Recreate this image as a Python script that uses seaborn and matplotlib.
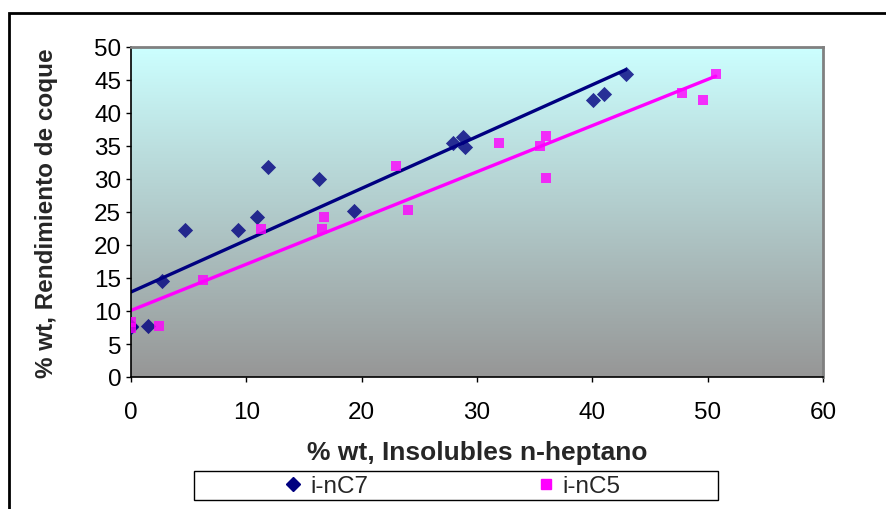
import numpy as np
import matplotlib
matplotlib.use("Agg")
import matplotlib.pyplot as plt
from matplotlib.lines import Line2D
from matplotlib.patches import Rectangle
import seaborn as sns

# i-nC7 series (navy diamonds), one point at x=0 sits under the pink squares
c7_x = [0.0, 0.0, 1.5, 2.7, 4.7, 9.3, 10.9, 11.9, 16.3, 19.3, 27.9, 28.8, 29.0, 40.1, 41.0, 42.9]
c7_y = [7.8, 7.6, 7.7, 14.6, 22.3, 22.3, 24.2, 31.8, 30.0, 25.2, 35.4, 36.3, 34.9, 41.9, 42.9, 45.9]

# i-nC5 series (magenta squares)
c5_x = [0.0, 0.0, 2.4, 6.2, 11.3, 16.6, 16.7, 23.0, 24.0, 31.9, 35.5, 36.0, 36.0, 47.8, 49.6, 50.7]
c5_y = [7.5, 8.4, 7.8, 14.7, 22.4, 22.4, 24.3, 31.9, 25.3, 35.5, 35.0, 36.5, 30.2, 43.0, 42.0, 45.9]

x_ticks = [0, 10, 20, 30, 40, 50, 60]
y_ticks = [0, 5, 10, 15, 20, 25, 30, 35, 40, 45, 50]

navy = "#000080"
magenta = "#FF00FF"

sns.set_style("white")
plt.rcParams['font.family'] = ['Liberation Sans', 'DejaVu Sans']

W, H = 887, 510
fig = plt.figure(figsize=(W / 100, H / 100), dpi=100)
ax = fig.add_axes([131 / W, 1 - 378 / H, (823 - 131) / W, (378 - 48) / H])

# gradient background, light cyan to grey
grad = np.linspace(0, 1, 256).reshape(-1, 1)
top = np.array([0.80, 1.0, 1.0])
bot = np.array([0.59, 0.59, 0.59])
img = top * (1 - grad[..., None]) + bot * grad[..., None]
ax.imshow(img, extent=[0, 1, 0, 1], transform=ax.transAxes, aspect='auto', zorder=0)

sns.regplot(x=c7_x, y=c7_y, ax=ax, ci=None, marker='D', color=navy,
            scatter_kws={'s': 60, 'zorder': 3, 'linewidths': 0},
            line_kws={'lw': 2.4, 'zorder': 2})
sns.regplot(x=c5_x, y=c5_y, ax=ax, ci=None, marker='s', color=magenta,
            scatter_kws={'s': 60, 'zorder': 4, 'linewidths': 0},
            line_kws={'lw': 2.4, 'zorder': 2})

ax.set_xlim(0, 60)
ax.set_ylim(0, 50)
ax.set_xticks(x_ticks)
ax.set_yticks(y_ticks)
ax.tick_params(axis='both', labelsize=17.5, length=3.6, width=1, direction='out',
               bottom=True, left=True, colors='black')
ax.tick_params(axis='x', pad=14)
ax.tick_params(axis='y', pad=3.5)
for s in ['left', 'bottom']:
    ax.spines[s].set_color('black')
    ax.spines[s].set_linewidth(1.2)
for s in ['top', 'right']:
    ax.spines[s].set_color('#808080')
    ax.spines[s].set_linewidth(2)

ax.set_xlabel('% wt, Insolubles n-heptano', fontsize=19, fontweight='bold')
ax.set_ylabel('% wt, Rendimiento de coque', fontsize=17.5, fontweight='bold')
ax.xaxis.set_label_coords(0.5, (378 - 453) / 330)
ax.xaxis.label.set_verticalalignment('center')
ax.yaxis.set_label_coords((47 - 131) / 692, 0.5)
ax.yaxis.label.set_verticalalignment('center')

# legend box
fig.add_artist(Rectangle((194 / W, 1 - 501 / H), 524 / W, 29 / H, transform=fig.transFigure,
                         fill=True, facecolor='white', edgecolor='black', lw=1))
handles = [
    Line2D([], [], marker='D', color=navy, linestyle='none', markersize=7),
    Line2D([], [], marker='s', color=magenta, linestyle='none', markersize=7),
]
fig.legend(handles, ['i-nC7', 'i-nC5'], loc='center',
           bbox_to_anchor=(452 / W, 1 - 487 / H), ncol=2, fontsize=17.5,
           frameon=False, handlelength=0.8, handletextpad=0.3, columnspacing=6.9,
           borderpad=0, borderaxespad=0)

# outer chart border
fig.add_artist(Rectangle((9 / W, -0.2), 1.0, 1.2 - 13.5 / H, transform=fig.transFigure,
                         fill=False, edgecolor='black', lw=2, clip_on=False))

fig.savefig('out.png', dpi=100)
